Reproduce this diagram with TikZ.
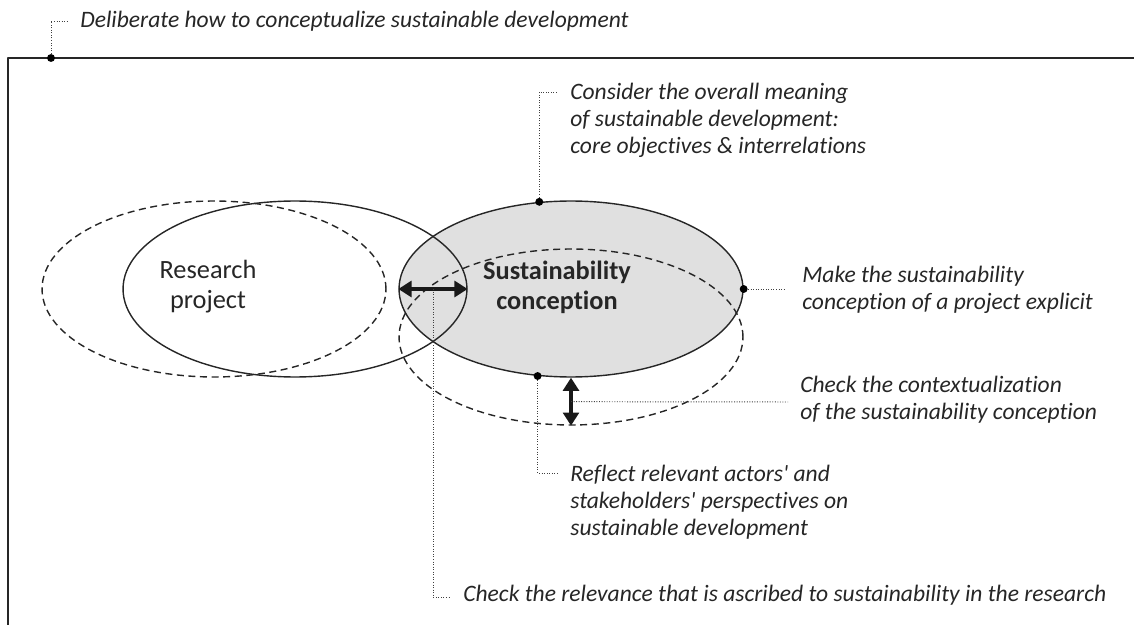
\documentclass[tikz,border=0pt]{standalone}
\usepackage{fontspec}
\setmainfont{Carlito}[RawFeature={-liga;-clig;-dlig;-calt}]
\usetikzlibrary{shapes.geometric,arrows.meta,calc}

\begin{document}
\begin{tikzpicture}[x=0.02cm,y=-0.02cm,line join=bevel]
  \tikzstyle{oval}=[ellipse,minimum width=6.88cm,minimum height=3.52cm,inner sep=0pt,draw=black!85,line width=0.8pt]
  \tikzstyle{dashedoval}=[oval,dash pattern=on 4pt off 2.6pt]
  \tikzstyle{dot}=[circle,fill=black,inner sep=0pt,minimum size=4.5pt]
  \tikzstyle{leader}=[black!75,line width=0.55pt,dash pattern=on 0.55pt off 0.9pt]
  \tikzstyle{note}=[font=\itshape\fontsize{13.4}{15.4}\selectfont,align=left,inner sep=0pt,text=black!85]
  \tikzstyle{ovaltext}=[font=\fontsize{15}{17}\selectfont,align=center,inner sep=0pt,text=black!85]
  \tikzstyle{twoway}=[{Triangle[length=7.5pt,width=9pt]}-{Triangle[length=7.5pt,width=9pt]},line width=2pt,black!90]

  \useasboundingbox (0,0) rectangle (1134,625);

  % frame
  \coordinate (F_tl) at (8,58);
  \coordinate (F_tr) at (1134,58);
  \coordinate (F_bl) at (8,625);
  \draw[line width=0.85pt,black!85] (F_bl) -- (F_tl) -- (F_tr);

  % ovals
  \node[oval,fill=black!12] (SC) at (571,289) {};
  \node[oval] (RP) at (295,289) {};
  \node[dashedoval] (RP_ctx) at (214,289) {};
  \node[dashedoval] (SC_ctx) at (571,337) {};

  \node[ovaltext] (RP_txt) at (208,287) {Research\\project};
  \node[ovaltext,font=\bfseries\fontsize{15}{17}\selectfont] (SC_txt) at (557,287) {Sustainability\\conception};

  % dots
  \node[dot] (D_frame) at (51,58) {};
  \node[dot] (D_top) at (SC.110.7) {};
  \node[dot] (D_right) at (SC.east) {};
  \node[dot] (D_bottom) at (SC.249.3) {};

  % arrows
  \draw[twoway] (SC.west) -- (RP.east);
  \draw[twoway] (SC.south) -- (SC_ctx.south);
  \coordinate (M_rel) at ($(SC.west)!0.5!(RP.east)$);
  \coordinate (M_ctx) at ($(SC.south)!0.5!(SC_ctx.south)$);

  % notes
  \node[note,anchor=west] (T_delib) at (80,21) {Deliberate how to conceptualize sustainable development};
  \node[note,anchor=north west] (T_meaning) at (570,83) {Consider the overall meaning\\of sustainable development:\\core objectives \& interrelations};
  \node[note,anchor=west] (T_explicit) at (802,290) {Make the sustainability\\conception of a project explicit};
  \node[note,anchor=west] (T_context) at (800,400) {Check the contextualization\\of the sustainability conception};
  \node[note,anchor=north west] (T_actors) at (570,465) {Reflect relevant actors\textquotesingle{} and\\stakeholders\textquotesingle{} perspectives on\\sustainable development};
  \node[note,anchor=west] (T_relev) at (463,595) {Check the relevance that is ascribed to sustainability in the research};

  % leaders
  \coordinate (L_delib) at (68,21);
  \coordinate (L_meaning) at (558,92);
  \coordinate (L_explicit) at (785,289);
  \coordinate (L_context) at (788,402);
  \coordinate (L_actors) at (558,473);
  \coordinate (L_relev) at (450,597);
  \draw[leader] (D_frame) |- (L_delib);
  \draw[leader] (D_top) |- (L_meaning);
  \draw[leader] (D_right) -- (L_explicit);
  \draw[leader] (M_ctx) -- (L_context);
  \draw[leader] (D_bottom) |- (L_actors);
  \draw[leader] (M_rel) |- (L_relev);
\end{tikzpicture}
\end{document}
